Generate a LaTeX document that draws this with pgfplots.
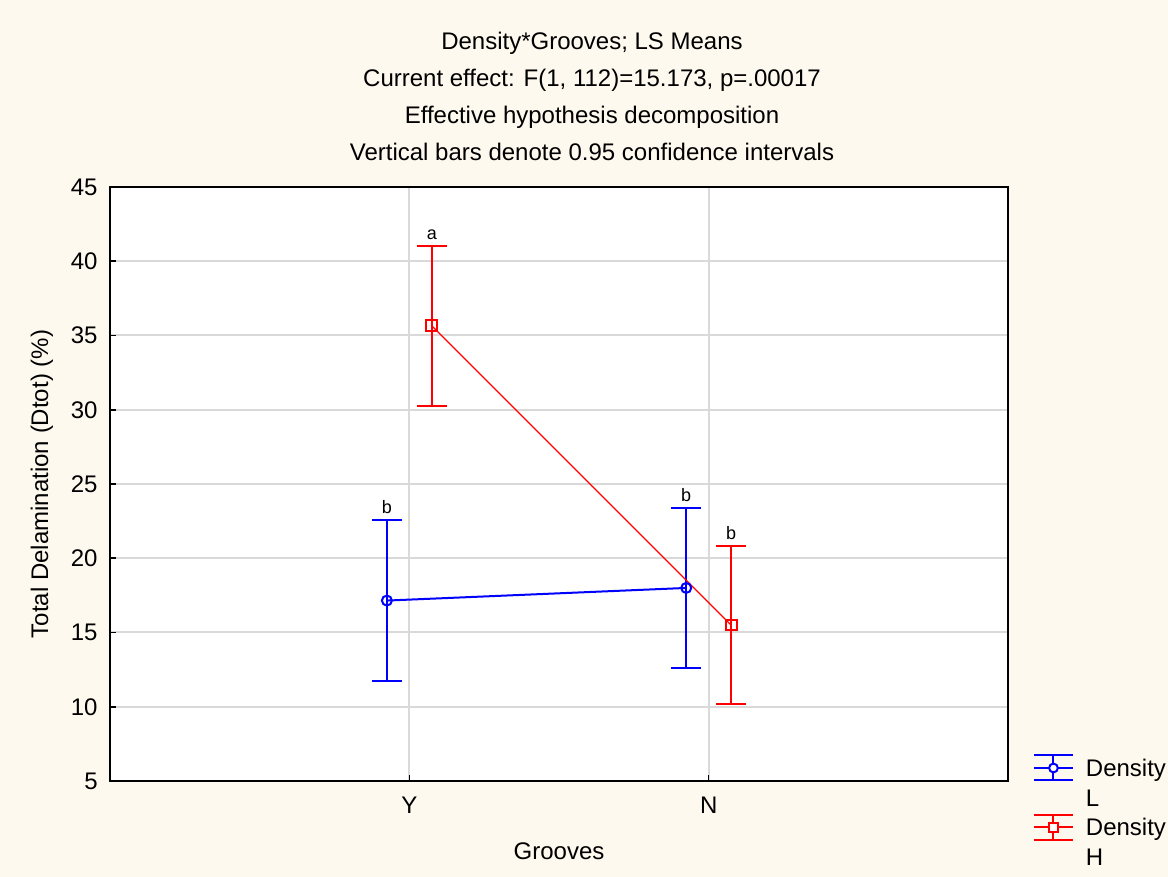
\documentclass[border=0pt]{standalone}
\usepackage{fontspec}
\setmainfont{Liberation Sans}
\usepackage{pgfplots}
\pgfplotsset{compat=1.18}
\definecolor{bgcream}{RGB}{254,249,238}
\definecolor{gridgrey}{RGB}{217,217,217}
\definecolor{lblue}{RGB}{0,0,255}
\definecolor{hred}{RGB}{255,0,0}

% legend symbols: error bar with caps and the series marker
\pgfplotsset{
  errlegend/.style={legend image code/.code={
    \draw[line width=1pt] (0pt,6.25pt) -- (19.5pt,6.25pt);
    \draw[line width=1pt] (0pt,0pt) -- (19.5pt,0pt);
    \draw[line width=1pt] (0pt,-6.25pt) -- (19.5pt,-6.25pt);
    \draw[line width=1pt] (9.75pt,-6.25pt) -- (9.75pt,6.25pt);
    \draw[line width=1pt, fill=white] #1;
  }},
}

\begin{document}
\begin{tikzpicture}
\fill[bgcream] (0,0) rectangle (584pt,438.5pt);
\node[align=center, anchor=center, font=\fontsize{12}{18.5}\selectfont] at (296pt,390.2pt)
  {Density*Grooves; LS Means\\Current effect: F(1, 112)=15.173, p=.00017\\Effective hypothesis decomposition\\Vertical bars denote 0.95 confidence intervals};
\begin{axis}[
  at={(55pt,48pt)}, anchor=south west,
  scale only axis, width=449pt, height=297pt,
  xmin=-1, xmax=2, ymin=5, ymax=45,
  xtick={0,1}, xticklabels={Y,N},
  ytick={5,10,...,45},
  grid=major, grid style={gridgrey, line width=1pt},
  axis line style={black, line width=1pt},
  axis background/.style={fill=white},
  tick align=inside, xtick pos=bottom, ytick pos=left,
  major tick length=3pt, tick style={black, line width=0.8pt},
  ticklabel style={font=\fontsize{12}{14}\selectfont},
  /pgf/number format/assume math mode=true,
  yticklabel style={inner sep=0pt, xshift=-6pt},
  xticklabel style={inner sep=0pt, yshift=-8pt},
  xlabel={Grooves}, ylabel={Total Delamination (Dtot) (\%)},
  label style={font=\fontsize{12}{14}\selectfont},
  xlabel style={at={(axis description cs:0.5,-0.1178)}, anchor=center},
  ylabel style={at={(axis description cs:-0.0757,0.5)}, anchor=center},
  legend cell align=left,
  legend style={at={(axis description cs:1.0278,0.0468)}, anchor=north west,
    draw=none, fill=none, inner sep=0pt, outer sep=0pt,
    font=\fontsize{12}{14}\selectfont, row sep=0pt, column sep=6pt,
    nodes={inner sep=0pt, text height=11.7pt, text depth=3.1pt}},
]
\addplot[lblue, line width=1pt, mark=o, mark size=2.5pt,
  mark options={fill=white, line width=1pt},
  errlegend={(9.75pt,0pt) circle (2.2pt)},
  error bars/.cd, y dir=both, y explicit,
  error bar style={line width=1pt},
  error mark options={rotate=90, line width=1pt, mark size=7.5pt}]
  coordinates {(-0.075,17.15) +- (0,5.4) (0.925,18.0) +- (0,5.4)};
\addlegendentry{Density}
\addlegendimage{empty legend}
\addlegendentry{L}
\addplot[hred, line width=0.6pt, mark=square, mark size=2.7pt,
  mark options={fill=white, line width=1pt},
  errlegend={(7.5pt,-2.25pt) rectangle (12pt,2.25pt)},
  error bars/.cd, y dir=both, y explicit,
  error bar style={line width=1pt},
  error mark options={rotate=90, line width=1pt, mark size=7.5pt}]
  coordinates {(0.075,35.65) +- (0,5.4) (1.075,15.5) +- (0,5.3)};
\addlegendentry{Density}
\addlegendimage{empty legend}
\addlegendentry{H}
% homogeneous groups
\node[font=\fontsize{9}{10}\selectfont, anchor=base, yshift=3.2pt] at (axis cs:0.075,41.05) {a};
\node[font=\fontsize{9}{10}\selectfont, anchor=base, yshift=3.2pt] at (axis cs:-0.075,22.55) {b};
\node[font=\fontsize{9}{10}\selectfont, anchor=base, yshift=3.2pt] at (axis cs:0.925,23.4) {b};
\node[font=\fontsize{9}{10}\selectfont, anchor=base, yshift=3.2pt] at (axis cs:1.075,20.8) {b};
\end{axis}
\end{tikzpicture}
\end{document}
